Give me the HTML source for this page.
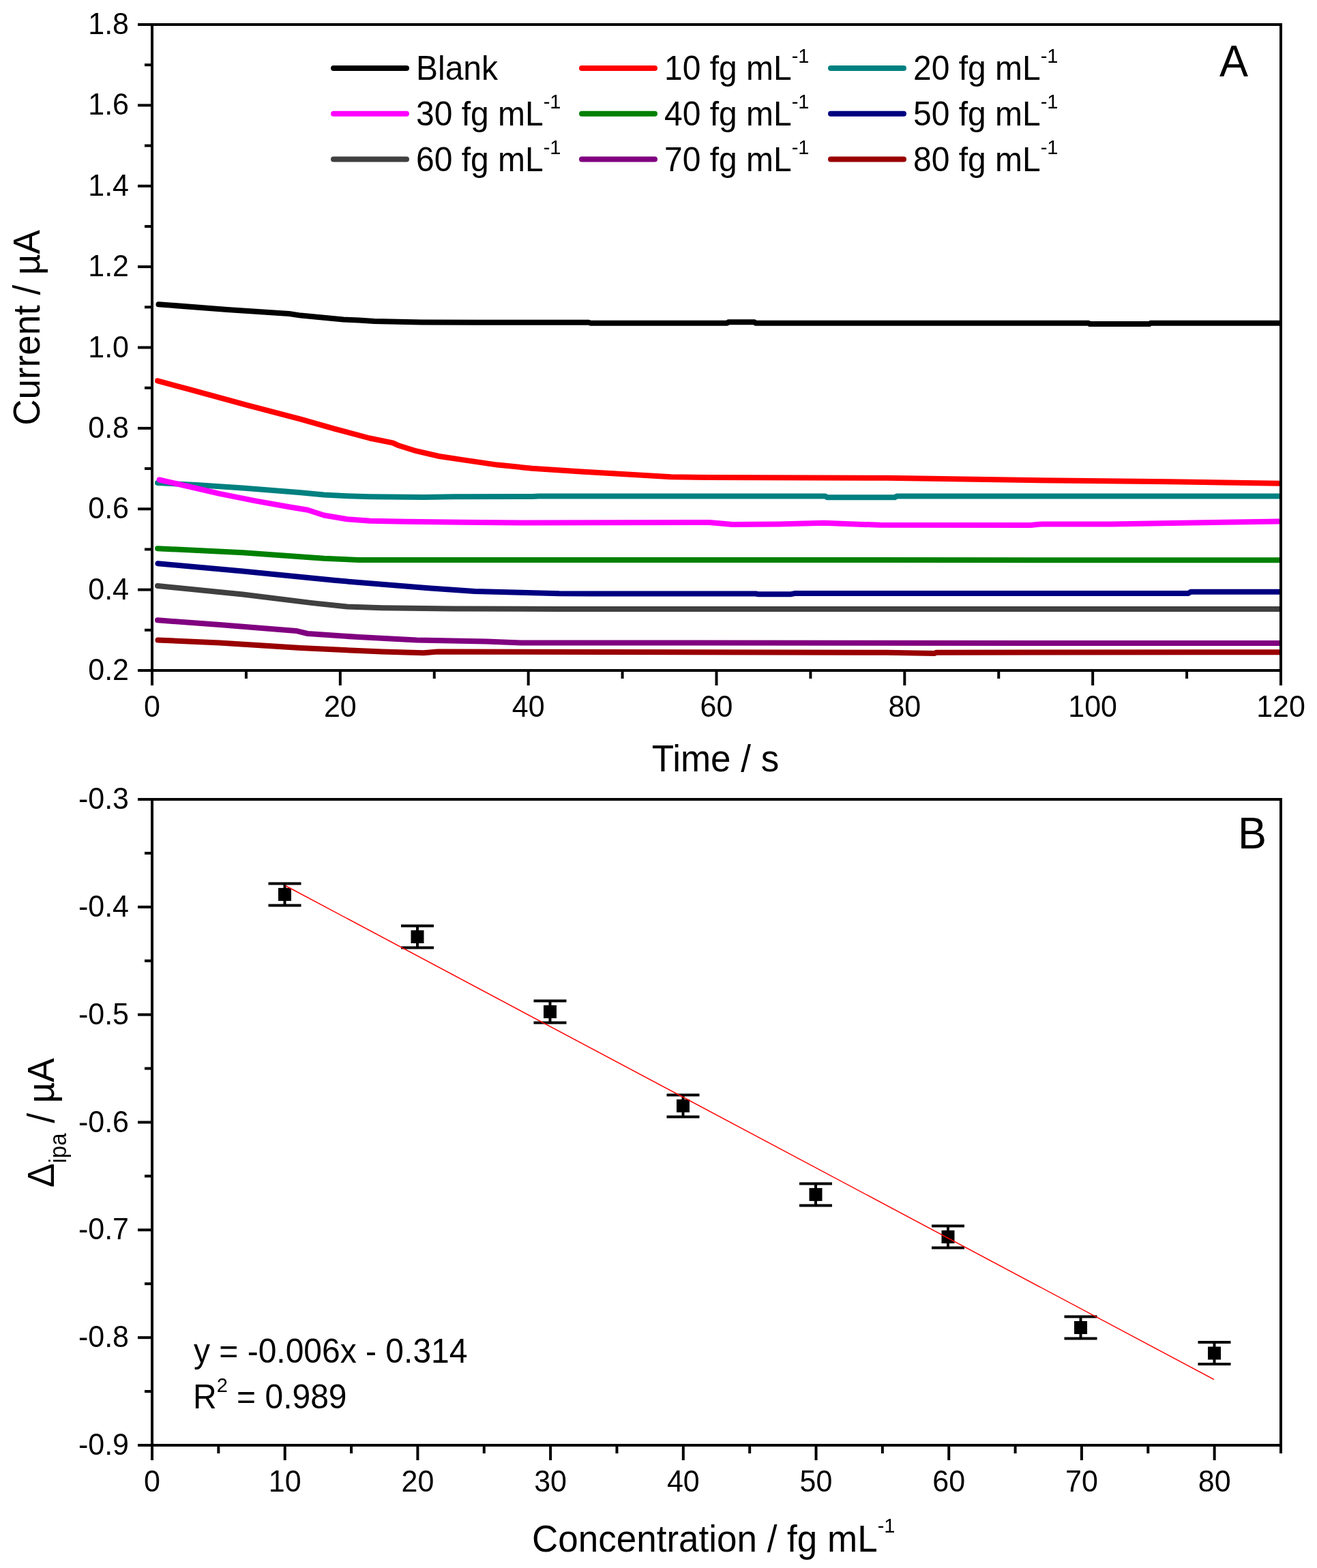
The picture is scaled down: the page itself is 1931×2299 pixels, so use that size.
<!DOCTYPE html>
<html><head><meta charset="utf-8"><title>Figure</title>
<style>
html,body{margin:0;padding:0;background:#fff;}
body{width:1931px;height:2299px;overflow:hidden;}
svg{display:block;font-family:'Liberation Sans', Arial, sans-serif;}
text{fill:#000;}
</style></head>
<body>
<svg width="1931" height="2299" viewBox="0 0 1931 2299">
<rect width="1931" height="2299" fill="#fff"/>
<rect x="223.0" y="36.0" width="1655.0" height="947.0" fill="none" stroke="#000" stroke-width="4"/>
<line x1="202.00" y1="36.00" x2="223.00" y2="36.00" stroke="#000" stroke-width="4" stroke-linecap="butt"/>
<text transform="translate(189.00,50.00) scale(1,1.04)" font-size="43" text-anchor="end" >1.8</text>
<line x1="202.00" y1="154.37" x2="223.00" y2="154.37" stroke="#000" stroke-width="4" stroke-linecap="butt"/>
<text transform="translate(189.00,168.37) scale(1,1.04)" font-size="43" text-anchor="end" >1.6</text>
<line x1="202.00" y1="272.75" x2="223.00" y2="272.75" stroke="#000" stroke-width="4" stroke-linecap="butt"/>
<text transform="translate(189.00,286.75) scale(1,1.04)" font-size="43" text-anchor="end" >1.4</text>
<line x1="202.00" y1="391.12" x2="223.00" y2="391.12" stroke="#000" stroke-width="4" stroke-linecap="butt"/>
<text transform="translate(189.00,405.12) scale(1,1.04)" font-size="43" text-anchor="end" >1.2</text>
<line x1="202.00" y1="509.50" x2="223.00" y2="509.50" stroke="#000" stroke-width="4" stroke-linecap="butt"/>
<text transform="translate(189.00,523.50) scale(1,1.04)" font-size="43" text-anchor="end" >1.0</text>
<line x1="202.00" y1="627.88" x2="223.00" y2="627.88" stroke="#000" stroke-width="4" stroke-linecap="butt"/>
<text transform="translate(189.00,641.88) scale(1,1.04)" font-size="43" text-anchor="end" >0.8</text>
<line x1="202.00" y1="746.25" x2="223.00" y2="746.25" stroke="#000" stroke-width="4" stroke-linecap="butt"/>
<text transform="translate(189.00,760.25) scale(1,1.04)" font-size="43" text-anchor="end" >0.6</text>
<line x1="202.00" y1="864.63" x2="223.00" y2="864.63" stroke="#000" stroke-width="4" stroke-linecap="butt"/>
<text transform="translate(189.00,878.63) scale(1,1.04)" font-size="43" text-anchor="end" >0.4</text>
<line x1="202.00" y1="983.00" x2="223.00" y2="983.00" stroke="#000" stroke-width="4" stroke-linecap="butt"/>
<text transform="translate(189.00,997.00) scale(1,1.04)" font-size="43" text-anchor="end" >0.2</text>
<line x1="212.00" y1="95.19" x2="223.00" y2="95.19" stroke="#000" stroke-width="4" stroke-linecap="butt"/>
<line x1="212.00" y1="213.56" x2="223.00" y2="213.56" stroke="#000" stroke-width="4" stroke-linecap="butt"/>
<line x1="212.00" y1="331.94" x2="223.00" y2="331.94" stroke="#000" stroke-width="4" stroke-linecap="butt"/>
<line x1="212.00" y1="450.31" x2="223.00" y2="450.31" stroke="#000" stroke-width="4" stroke-linecap="butt"/>
<line x1="212.00" y1="568.69" x2="223.00" y2="568.69" stroke="#000" stroke-width="4" stroke-linecap="butt"/>
<line x1="212.00" y1="687.06" x2="223.00" y2="687.06" stroke="#000" stroke-width="4" stroke-linecap="butt"/>
<line x1="212.00" y1="805.44" x2="223.00" y2="805.44" stroke="#000" stroke-width="4" stroke-linecap="butt"/>
<line x1="212.00" y1="923.81" x2="223.00" y2="923.81" stroke="#000" stroke-width="4" stroke-linecap="butt"/>
<line x1="223.00" y1="983.00" x2="223.00" y2="1005.00" stroke="#000" stroke-width="4" stroke-linecap="butt"/>
<text transform="translate(223.00,1051.00) scale(1,1.04)" font-size="43" text-anchor="middle" >0</text>
<line x1="498.83" y1="983.00" x2="498.83" y2="1005.00" stroke="#000" stroke-width="4" stroke-linecap="butt"/>
<text transform="translate(498.83,1051.00) scale(1,1.04)" font-size="43" text-anchor="middle" >20</text>
<line x1="774.67" y1="983.00" x2="774.67" y2="1005.00" stroke="#000" stroke-width="4" stroke-linecap="butt"/>
<text transform="translate(774.67,1051.00) scale(1,1.04)" font-size="43" text-anchor="middle" >40</text>
<line x1="1050.50" y1="983.00" x2="1050.50" y2="1005.00" stroke="#000" stroke-width="4" stroke-linecap="butt"/>
<text transform="translate(1050.50,1051.00) scale(1,1.04)" font-size="43" text-anchor="middle" >60</text>
<line x1="1326.33" y1="983.00" x2="1326.33" y2="1005.00" stroke="#000" stroke-width="4" stroke-linecap="butt"/>
<text transform="translate(1326.33,1051.00) scale(1,1.04)" font-size="43" text-anchor="middle" >80</text>
<line x1="1602.17" y1="983.00" x2="1602.17" y2="1005.00" stroke="#000" stroke-width="4" stroke-linecap="butt"/>
<text transform="translate(1602.17,1051.00) scale(1,1.04)" font-size="43" text-anchor="middle" >100</text>
<line x1="1878.00" y1="983.00" x2="1878.00" y2="1005.00" stroke="#000" stroke-width="4" stroke-linecap="butt"/>
<text transform="translate(1878.00,1051.00) scale(1,1.04)" font-size="43" text-anchor="middle" >120</text>
<line x1="360.92" y1="983.00" x2="360.92" y2="995.00" stroke="#000" stroke-width="4" stroke-linecap="butt"/>
<line x1="636.75" y1="983.00" x2="636.75" y2="995.00" stroke="#000" stroke-width="4" stroke-linecap="butt"/>
<line x1="912.58" y1="983.00" x2="912.58" y2="995.00" stroke="#000" stroke-width="4" stroke-linecap="butt"/>
<line x1="1188.42" y1="983.00" x2="1188.42" y2="995.00" stroke="#000" stroke-width="4" stroke-linecap="butt"/>
<line x1="1464.25" y1="983.00" x2="1464.25" y2="995.00" stroke="#000" stroke-width="4" stroke-linecap="butt"/>
<line x1="1740.08" y1="983.00" x2="1740.08" y2="995.00" stroke="#000" stroke-width="4" stroke-linecap="butt"/>
<text transform="translate(1049.00,1131.00) scale(1,1.04)" font-size="53" text-anchor="middle" >Time / s</text>
<text transform="translate(58.00,480.50) rotate(-90) scale(1,1.04)" font-size="53" text-anchor="middle">Current / &#181;A</text>
<text transform="translate(1809.00,112.00) scale(1,1.04)" font-size="63" text-anchor="middle" >A</text>
<defs><clipPath id="cpA"><rect x="0" y="0" width="1876" height="1000"/></clipPath></defs>
<g clip-path="url(#cpA)">
<polyline points="232.5,446.2 333.4,454.1 424.0,460.0 441.0,462.6 503.4,468.5 526.0,469.6 548.8,471.0 618.0,472.5 700.0,472.7 863.0,472.7 866.0,473.7 1066.0,473.7 1068.0,472.2 1106.0,472.2 1108.0,473.7 1596.0,473.7 1598.0,475.1 1685.0,475.1 1687.0,473.7 1878.0,473.7" fill="none" stroke="#000000" stroke-width="8" stroke-linejoin="round" stroke-linecap="round"/>
<polyline points="231.0,558.4 276.7,570.6 361.7,593.9 440.0,614.3 491.0,628.9 542.0,642.5 576.0,649.3 583.0,652.7 610.0,661.2 644.0,669.0 678.0,674.1 729.0,681.6 780.0,686.7 848.0,691.2 916.0,695.2 984.0,699.3 1040.0,699.9 1300.0,700.8 1494.0,703.8 1715.0,706.2 1878.0,708.9" fill="none" stroke="#ff0000" stroke-width="8" stroke-linejoin="round" stroke-linecap="round"/>
<polyline points="231.0,707.9 288.0,711.0 356.0,715.4 441.0,722.2 475.0,725.6 509.0,727.3 543.0,728.3 621.0,729.0 665.0,728.3 781.0,728.0 790.0,727.6 1210.0,727.6 1213.0,729.3 1312.0,729.3 1315.0,727.6 1878.0,727.6" fill="none" stroke="#008080" stroke-width="8" stroke-linejoin="round" stroke-linecap="round"/>
<polyline points="233.6,703.5 271.0,712.0 322.0,723.9 373.0,734.1 424.0,743.3 451.3,747.7 475.0,755.5 509.0,761.3 543.0,763.7 594.0,764.7 679.0,765.7 764.0,766.5 1040.0,765.9 1074.0,769.1 1142.0,768.5 1208.0,766.8 1290.0,769.8 1511.0,770.1 1528.0,768.4 1630.0,768.4 1732.0,766.7 1878.0,764.4" fill="none" stroke="#ff00ff" stroke-width="8" stroke-linejoin="round" stroke-linecap="round"/>
<polyline points="231.0,804.2 356.0,810.3 475.0,818.8 526.0,820.9 1878.0,821.3" fill="none" stroke="#008000" stroke-width="8" stroke-linejoin="round" stroke-linecap="round"/>
<polyline points="231.5,826.3 356.0,837.5 492.0,851.1 628.0,862.3 696.0,867.1 764.0,868.8 820.0,870.3 870.0,870.5 1108.0,870.5 1112.0,871.2 1160.0,871.2 1165.0,870.1 1742.0,870.1 1746.0,867.8 1878.0,867.8" fill="none" stroke="#000080" stroke-width="8" stroke-linejoin="round" stroke-linecap="round"/>
<polyline points="231.0,859.0 356.0,871.5 458.0,884.1 509.0,889.6 560.0,891.3 662.0,892.6 820.0,893.0 1878.0,893.0" fill="none" stroke="#404040" stroke-width="8" stroke-linejoin="round" stroke-linecap="round"/>
<polyline points="231.0,909.3 322.0,916.1 434.0,924.9 451.0,929.0 526.0,934.1 611.0,938.5 713.0,940.6 764.0,942.4 1878.0,943.1" fill="none" stroke="#800080" stroke-width="8" stroke-linejoin="round" stroke-linecap="round"/>
<polyline points="231.5,938.5 322.0,942.6 441.0,950.1 560.0,955.5 621.0,957.2 642.0,955.5 1300.0,956.8 1370.0,958.0 1373.0,956.8 1878.0,956.2" fill="none" stroke="#990000" stroke-width="8" stroke-linejoin="round" stroke-linecap="round"/>
</g>
<line x1="1878.00" y1="34.00" x2="1878.00" y2="985.00" stroke="#000" stroke-width="4" stroke-linecap="butt"/>
<line x1="489.00" y1="100.00" x2="596.00" y2="100.00" stroke="#000000" stroke-width="8" stroke-linecap="round"/>
<text transform="translate(610.00,117.00) scale(1,1.04)" font-size="48" text-anchor="start" >Blank</text>
<line x1="853.00" y1="100.00" x2="960.00" y2="100.00" stroke="#ff0000" stroke-width="8" stroke-linecap="round"/>
<text transform="translate(974.00,117.00) scale(1,1.04)" font-size="48" text-anchor="start">10 fg mL<tspan font-size="29" dy="-24">-1</tspan></text>
<line x1="1218.00" y1="100.00" x2="1325.00" y2="100.00" stroke="#008080" stroke-width="8" stroke-linecap="round"/>
<text transform="translate(1339.00,117.00) scale(1,1.04)" font-size="48" text-anchor="start">20 fg mL<tspan font-size="29" dy="-24">-1</tspan></text>
<line x1="489.00" y1="166.80" x2="596.00" y2="166.80" stroke="#ff00ff" stroke-width="8" stroke-linecap="round"/>
<text transform="translate(610.00,183.80) scale(1,1.04)" font-size="48" text-anchor="start">30 fg mL<tspan font-size="29" dy="-24">-1</tspan></text>
<line x1="853.00" y1="166.80" x2="960.00" y2="166.80" stroke="#008000" stroke-width="8" stroke-linecap="round"/>
<text transform="translate(974.00,183.80) scale(1,1.04)" font-size="48" text-anchor="start">40 fg mL<tspan font-size="29" dy="-24">-1</tspan></text>
<line x1="1218.00" y1="166.80" x2="1325.00" y2="166.80" stroke="#000080" stroke-width="8" stroke-linecap="round"/>
<text transform="translate(1339.00,183.80) scale(1,1.04)" font-size="48" text-anchor="start">50 fg mL<tspan font-size="29" dy="-24">-1</tspan></text>
<line x1="489.00" y1="233.60" x2="596.00" y2="233.60" stroke="#404040" stroke-width="8" stroke-linecap="round"/>
<text transform="translate(610.00,250.60) scale(1,1.04)" font-size="48" text-anchor="start">60 fg mL<tspan font-size="29" dy="-24">-1</tspan></text>
<line x1="853.00" y1="233.60" x2="960.00" y2="233.60" stroke="#800080" stroke-width="8" stroke-linecap="round"/>
<text transform="translate(974.00,250.60) scale(1,1.04)" font-size="48" text-anchor="start">70 fg mL<tspan font-size="29" dy="-24">-1</tspan></text>
<line x1="1218.00" y1="233.60" x2="1325.00" y2="233.60" stroke="#990000" stroke-width="8" stroke-linecap="round"/>
<text transform="translate(1339.00,250.60) scale(1,1.04)" font-size="48" text-anchor="start">80 fg mL<tspan font-size="29" dy="-24">-1</tspan></text>
<rect x="223.0" y="1172.0" width="1655.0" height="947.0" fill="none" stroke="#000" stroke-width="4"/>
<line x1="202.00" y1="1172.00" x2="223.00" y2="1172.00" stroke="#000" stroke-width="4" stroke-linecap="butt"/>
<text transform="translate(189.00,1186.00) scale(1,1.04)" font-size="43" text-anchor="end" >-0.3</text>
<line x1="202.00" y1="1329.83" x2="223.00" y2="1329.83" stroke="#000" stroke-width="4" stroke-linecap="butt"/>
<text transform="translate(189.00,1343.83) scale(1,1.04)" font-size="43" text-anchor="end" >-0.4</text>
<line x1="202.00" y1="1487.67" x2="223.00" y2="1487.67" stroke="#000" stroke-width="4" stroke-linecap="butt"/>
<text transform="translate(189.00,1501.67) scale(1,1.04)" font-size="43" text-anchor="end" >-0.5</text>
<line x1="202.00" y1="1645.50" x2="223.00" y2="1645.50" stroke="#000" stroke-width="4" stroke-linecap="butt"/>
<text transform="translate(189.00,1659.50) scale(1,1.04)" font-size="43" text-anchor="end" >-0.6</text>
<line x1="202.00" y1="1803.33" x2="223.00" y2="1803.33" stroke="#000" stroke-width="4" stroke-linecap="butt"/>
<text transform="translate(189.00,1817.33) scale(1,1.04)" font-size="43" text-anchor="end" >-0.7</text>
<line x1="202.00" y1="1961.17" x2="223.00" y2="1961.17" stroke="#000" stroke-width="4" stroke-linecap="butt"/>
<text transform="translate(189.00,1975.17) scale(1,1.04)" font-size="43" text-anchor="end" >-0.8</text>
<line x1="202.00" y1="2119.00" x2="223.00" y2="2119.00" stroke="#000" stroke-width="4" stroke-linecap="butt"/>
<text transform="translate(189.00,2133.00) scale(1,1.04)" font-size="43" text-anchor="end" >-0.9</text>
<line x1="212.00" y1="1250.92" x2="223.00" y2="1250.92" stroke="#000" stroke-width="4" stroke-linecap="butt"/>
<line x1="212.00" y1="1408.75" x2="223.00" y2="1408.75" stroke="#000" stroke-width="4" stroke-linecap="butt"/>
<line x1="212.00" y1="1566.58" x2="223.00" y2="1566.58" stroke="#000" stroke-width="4" stroke-linecap="butt"/>
<line x1="212.00" y1="1724.42" x2="223.00" y2="1724.42" stroke="#000" stroke-width="4" stroke-linecap="butt"/>
<line x1="212.00" y1="1882.25" x2="223.00" y2="1882.25" stroke="#000" stroke-width="4" stroke-linecap="butt"/>
<line x1="212.00" y1="2040.08" x2="223.00" y2="2040.08" stroke="#000" stroke-width="4" stroke-linecap="butt"/>
<line x1="223.00" y1="2119.00" x2="223.00" y2="2141.00" stroke="#000" stroke-width="4" stroke-linecap="butt"/>
<text transform="translate(223.00,2187.00) scale(1,1.04)" font-size="43" text-anchor="middle" >0</text>
<line x1="417.71" y1="2119.00" x2="417.71" y2="2141.00" stroke="#000" stroke-width="4" stroke-linecap="butt"/>
<text transform="translate(417.71,2187.00) scale(1,1.04)" font-size="43" text-anchor="middle" >10</text>
<line x1="612.41" y1="2119.00" x2="612.41" y2="2141.00" stroke="#000" stroke-width="4" stroke-linecap="butt"/>
<text transform="translate(612.41,2187.00) scale(1,1.04)" font-size="43" text-anchor="middle" >20</text>
<line x1="807.12" y1="2119.00" x2="807.12" y2="2141.00" stroke="#000" stroke-width="4" stroke-linecap="butt"/>
<text transform="translate(807.12,2187.00) scale(1,1.04)" font-size="43" text-anchor="middle" >30</text>
<line x1="1001.82" y1="2119.00" x2="1001.82" y2="2141.00" stroke="#000" stroke-width="4" stroke-linecap="butt"/>
<text transform="translate(1001.82,2187.00) scale(1,1.04)" font-size="43" text-anchor="middle" >40</text>
<line x1="1196.53" y1="2119.00" x2="1196.53" y2="2141.00" stroke="#000" stroke-width="4" stroke-linecap="butt"/>
<text transform="translate(1196.53,2187.00) scale(1,1.04)" font-size="43" text-anchor="middle" >50</text>
<line x1="1391.24" y1="2119.00" x2="1391.24" y2="2141.00" stroke="#000" stroke-width="4" stroke-linecap="butt"/>
<text transform="translate(1391.24,2187.00) scale(1,1.04)" font-size="43" text-anchor="middle" >60</text>
<line x1="1585.94" y1="2119.00" x2="1585.94" y2="2141.00" stroke="#000" stroke-width="4" stroke-linecap="butt"/>
<text transform="translate(1585.94,2187.00) scale(1,1.04)" font-size="43" text-anchor="middle" >70</text>
<line x1="1780.65" y1="2119.00" x2="1780.65" y2="2141.00" stroke="#000" stroke-width="4" stroke-linecap="butt"/>
<text transform="translate(1780.65,2187.00) scale(1,1.04)" font-size="43" text-anchor="middle" >80</text>
<line x1="320.35" y1="2119.00" x2="320.35" y2="2131.00" stroke="#000" stroke-width="4" stroke-linecap="butt"/>
<line x1="515.06" y1="2119.00" x2="515.06" y2="2131.00" stroke="#000" stroke-width="4" stroke-linecap="butt"/>
<line x1="709.76" y1="2119.00" x2="709.76" y2="2131.00" stroke="#000" stroke-width="4" stroke-linecap="butt"/>
<line x1="904.47" y1="2119.00" x2="904.47" y2="2131.00" stroke="#000" stroke-width="4" stroke-linecap="butt"/>
<line x1="1099.18" y1="2119.00" x2="1099.18" y2="2131.00" stroke="#000" stroke-width="4" stroke-linecap="butt"/>
<line x1="1293.88" y1="2119.00" x2="1293.88" y2="2131.00" stroke="#000" stroke-width="4" stroke-linecap="butt"/>
<line x1="1488.59" y1="2119.00" x2="1488.59" y2="2131.00" stroke="#000" stroke-width="4" stroke-linecap="butt"/>
<line x1="1683.29" y1="2119.00" x2="1683.29" y2="2131.00" stroke="#000" stroke-width="4" stroke-linecap="butt"/>
<line x1="1878.00" y1="2119.00" x2="1878.00" y2="2131.00" stroke="#000" stroke-width="4" stroke-linecap="butt"/>
<line x1="417.50" y1="1295.40" x2="417.50" y2="1327.40" stroke="#000" stroke-width="4" stroke-linecap="butt"/>
<line x1="393.50" y1="1295.40" x2="441.50" y2="1295.40" stroke="#000" stroke-width="4" stroke-linecap="butt"/>
<line x1="393.50" y1="1327.40" x2="441.50" y2="1327.40" stroke="#000" stroke-width="4" stroke-linecap="butt"/>
<rect x="408.00" y="1301.90" width="19" height="19" fill="#000"/>
<line x1="612.00" y1="1357.50" x2="612.00" y2="1389.50" stroke="#000" stroke-width="4" stroke-linecap="butt"/>
<line x1="588.00" y1="1357.50" x2="636.00" y2="1357.50" stroke="#000" stroke-width="4" stroke-linecap="butt"/>
<line x1="588.00" y1="1389.50" x2="636.00" y2="1389.50" stroke="#000" stroke-width="4" stroke-linecap="butt"/>
<rect x="602.50" y="1364.00" width="19" height="19" fill="#000"/>
<line x1="806.50" y1="1467.40" x2="806.50" y2="1499.40" stroke="#000" stroke-width="4" stroke-linecap="butt"/>
<line x1="782.50" y1="1467.40" x2="830.50" y2="1467.40" stroke="#000" stroke-width="4" stroke-linecap="butt"/>
<line x1="782.50" y1="1499.40" x2="830.50" y2="1499.40" stroke="#000" stroke-width="4" stroke-linecap="butt"/>
<rect x="797.00" y="1473.90" width="19" height="19" fill="#000"/>
<line x1="1001.50" y1="1605.40" x2="1001.50" y2="1637.40" stroke="#000" stroke-width="4" stroke-linecap="butt"/>
<line x1="977.50" y1="1605.40" x2="1025.50" y2="1605.40" stroke="#000" stroke-width="4" stroke-linecap="butt"/>
<line x1="977.50" y1="1637.40" x2="1025.50" y2="1637.40" stroke="#000" stroke-width="4" stroke-linecap="butt"/>
<rect x="992.00" y="1611.90" width="19" height="19" fill="#000"/>
<line x1="1196.00" y1="1735.40" x2="1196.00" y2="1767.40" stroke="#000" stroke-width="4" stroke-linecap="butt"/>
<line x1="1172.00" y1="1735.40" x2="1220.00" y2="1735.40" stroke="#000" stroke-width="4" stroke-linecap="butt"/>
<line x1="1172.00" y1="1767.40" x2="1220.00" y2="1767.40" stroke="#000" stroke-width="4" stroke-linecap="butt"/>
<rect x="1186.50" y="1741.90" width="19" height="19" fill="#000"/>
<line x1="1390.00" y1="1797.50" x2="1390.00" y2="1829.50" stroke="#000" stroke-width="4" stroke-linecap="butt"/>
<line x1="1366.00" y1="1797.50" x2="1414.00" y2="1797.50" stroke="#000" stroke-width="4" stroke-linecap="butt"/>
<line x1="1366.00" y1="1829.50" x2="1414.00" y2="1829.50" stroke="#000" stroke-width="4" stroke-linecap="butt"/>
<rect x="1380.50" y="1804.00" width="19" height="19" fill="#000"/>
<line x1="1584.50" y1="1930.50" x2="1584.50" y2="1962.50" stroke="#000" stroke-width="4" stroke-linecap="butt"/>
<line x1="1560.50" y1="1930.50" x2="1608.50" y2="1930.50" stroke="#000" stroke-width="4" stroke-linecap="butt"/>
<line x1="1560.50" y1="1962.50" x2="1608.50" y2="1962.50" stroke="#000" stroke-width="4" stroke-linecap="butt"/>
<rect x="1575.00" y="1937.00" width="19" height="19" fill="#000"/>
<line x1="1780.50" y1="1968.00" x2="1780.50" y2="2000.00" stroke="#000" stroke-width="4" stroke-linecap="butt"/>
<line x1="1756.50" y1="1968.00" x2="1804.50" y2="1968.00" stroke="#000" stroke-width="4" stroke-linecap="butt"/>
<line x1="1756.50" y1="2000.00" x2="1804.50" y2="2000.00" stroke="#000" stroke-width="4" stroke-linecap="butt"/>
<rect x="1771.00" y="1974.50" width="19" height="19" fill="#000"/>
<line x1="418.30" y1="1298.50" x2="1779.90" y2="2022.60" stroke="#ff0000" stroke-width="1.5" stroke-linecap="butt"/>
<text transform="translate(1836.00,1244.00) scale(1,1.04)" font-size="63" text-anchor="middle" >B</text>
<text transform="translate(284.00,1997.50) scale(1,1.04)" font-size="48" text-anchor="start">y = -0.006x - 0.314</text>
<text transform="translate(283.00,2064.60) scale(1,1.04)" font-size="48" text-anchor="start">R<tspan font-size="29" dy="-23">2</tspan><tspan dy="23"> = 0.989</tspan></text>
<text transform="translate(780.00,2275.00) scale(1,1.04)" font-size="53" text-anchor="start">Concentration / fg mL<tspan font-size="29" dy="-26.5">-1</tspan></text>
<text transform="translate(78.70,1646.20) rotate(-90) scale(1,1.04)" font-size="53" text-anchor="middle">&#916;<tspan font-size="33" dy="18">ipa</tspan><tspan dy="-18"> / &#181;A</tspan></text>
</svg>
</body></html>
